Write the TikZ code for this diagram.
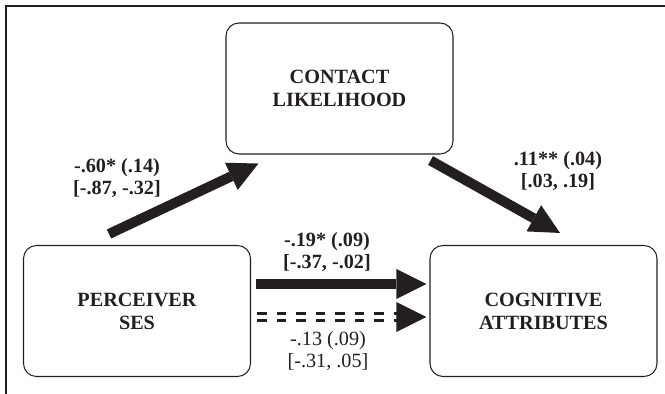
\documentclass[tikz,border=0pt]{standalone}
\usepackage{fontspec}
\setmainfont{Liberation Serif}
\usetikzlibrary{arrows.meta}
\definecolor{ink}{RGB}{35,31,32}

\begin{document}
\begin{tikzpicture}[line join=miter, x=1cm, y=1cm,
    varbox/.style={draw=ink, line width=0.6pt, rounded corners=0.26cm, minimum width=4.54cm, minimum height=2.62cm, align=center, text=ink, font=\fontsize{11.5}{13}\selectfont\bfseries},
    coef/.style={align=center, text=ink, font=\fontsize{11.5}{12.5}\selectfont},
    effect/.style={draw=ink, line width=0.2cm, -{Triangle[length=0.6cm, width=0.6cm, line width=0pt]}},
    dashedeffect/.style={draw=ink, line width=0.06cm, double=white, double distance=0.08cm, dash pattern=on 0.19cm off 0.2cm}]

    \useasboundingbox (0,0) rectangle (13.3,7.88);
    \draw[ink, line width=1.6pt] (0.12,0) -- (0.12,7.76) -- (13.3,7.76);

    \node[varbox] (contact) at (6.79,6.11) {CONTACT\\LIKELIHOOD};
    \node[varbox] (perceiver) at (2.74,1.66) {PERCEIVER\\SES};
    \node[varbox] (cognitive) at (10.87,1.66) {COGNITIVE\\ATTRIBUTES};

    \draw[effect] ([shift={(-0.56,0.22)}]perceiver.north) -- ([shift={(0.66,-0.18)}]contact.south west);
    \draw[effect] ([shift={(-0.46,-0.12)}]contact.south east) -- ([shift={(0.33,0.24)}]cognitive.north);
    \draw[effect] ([shift={(0.1,0.54)}]perceiver.east) -- ([shift={(-0.06,0.54)}]cognitive.west);
    \draw[dashedeffect] ([shift={(0.12,-0.12)}]perceiver.east) -- ([shift={(-0.62,-0.12)}]cognitive.west);
    \draw[effect] ([shift={(-0.66,-0.12)}]cognitive.west) -- ([shift={(-0.06,-0.12)}]cognitive.west);

    \node[coef, font=\fontsize{11.5}{12.5}\selectfont\bfseries] (acoef) at (2.34,4.31) {-.60* (.14)\\{[}-.87, -.32{]}};
    \node[coef, font=\fontsize{11.5}{12.5}\selectfont\bfseries] (bcoef) at (11.16,4.46) {.11** (.04)\\{[}.03, .19{]}};
    \node[coef, font=\fontsize{11.5}{12.5}\selectfont\bfseries] (ccoef) at (6.54,2.84) {-.19* (.09)\\{[}-.37, -.02{]}};
    \node[coef] (dcoef) at (6.56,0.86) {-.13 (.09)\\{[}-.31, .05{]}};

\end{tikzpicture}
\end{document}
